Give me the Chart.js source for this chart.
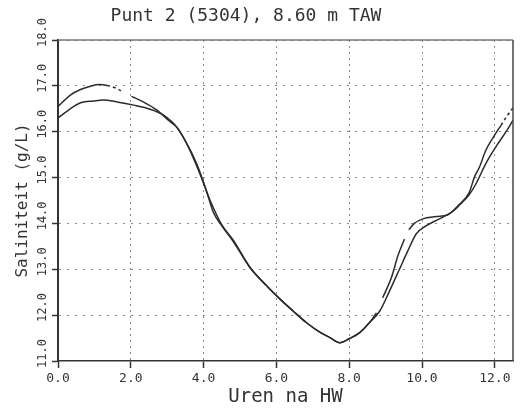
<!DOCTYPE html>
<html>
<head>
<meta charset="utf-8">
<script src="https://cdn.jsdelivr.net/npm/chart.js@4/dist/chart.umd.min.js"></script>
<style>
html,body{margin:0;padding:0;background:#fff;}
#c{display:block;}
</style>
</head>
<body>
<canvas id="c" width="520" height="411"></canvas>
<script>
// ---- data ----
const chartTitle = "Punt 2 (5304), 8.60 m TAW";
const xTitle = "Uren na HW";
const yTitle = "Saliniteit (g/L)";

const xTickValues = [0, 2, 4, 6, 8, 10, 12];
const xTickLabels = ["0.0", "2.0", "4.0", "6.0", "8.0", "10.0", "12.0"];
const yTickValues = [11, 12, 13, 14, 15, 16, 17, 18];
const yTickLabels = ["11.0", "12.0", "13.0", "14.0", "15.0", "16.0", "17.0", "18.0"];

// measured series (with gaps)
const measHours = [0.0, 0.34, 0.62, 0.89, 1.12, 1.35, 1.62, 1.80, 1.92, 2.02, 2.34, 2.72, 3.03, 3.27, 3.54, 3.81, 4.05, 4.27, 4.50, 4.82, 5.27, 5.73, 6.10, 6.46, 6.82, 7.19, 7.47, 7.74, 8.01, 8.29, 8.56, 8.75, 8.85, 8.92, 9.16, 9.34, 9.52, 9.58, 9.64, 9.79, 10.02, 10.39, 10.71, 11.03, 11.30, 11.44, 11.58, 11.75, 11.99, 12.17, 12.35, 12.5];
const measValues = [16.55, 16.80, 16.92, 16.99, 17.03, 17.01, 16.94, 16.86, null, 16.77, 16.65, 16.47, 16.25, 16.09, 15.74, 15.30, 14.78, 14.24, 13.95, 13.60, 13.04, 12.64, 12.35, 12.09, 11.84, 11.63, 11.51, 11.40, 11.49, 11.62, 11.84, 12.05, null, 12.38, 12.82, 13.30, 13.66, null, 13.86, 14.00, 14.10, 14.15, 14.19, 14.42, 14.68, 15.01, 15.23, 15.59, 15.92, 16.14, 16.36, 16.52];

// computed series (smooth)
const modelHours = [0.0, 0.34, 0.62, 0.98, 1.25, 1.62, 2.08, 2.53, 2.90, 3.27, 3.58, 3.90, 4.18, 4.50, 4.82, 5.27, 5.73, 6.10, 6.46, 6.82, 7.19, 7.47, 7.74, 8.01, 8.29, 8.56, 8.84, 9.11, 9.38, 9.61, 9.84, 10.12, 10.48, 10.84, 11.03, 11.30, 11.48, 11.75, 12.03, 12.30, 12.5];
const modelValues = [16.30, 16.50, 16.63, 16.67, 16.69, 16.65, 16.58, 16.49, 16.36, 16.09, 15.67, 15.08, 14.50, 13.97, 13.63, 13.05, 12.64, 12.35, 12.09, 11.84, 11.63, 11.51, 11.40, 11.49, 11.62, 11.84, 12.09, 12.53, 13.00, 13.40, 13.77, 13.95, 14.10, 14.26, 14.40, 14.63, 14.86, 15.30, 15.67, 15.99, 16.25];

// ---- build ----
const toXY = (xs, ys) => xs.map((x, i) => ({x: x, y: ys[i]}));
const INK = '#2b2b2b';
const GRID = '#8a8a8a';
const MONO = "'DejaVu Sans Mono', 'Liberation Mono', monospace";

const framePlugin = {
  id: 'frame',
  beforeDraw(chart) {
    const ctx = chart.ctx;
    ctx.save();
    ctx.fillStyle = '#fff';
    ctx.fillRect(0, 0, chart.width, chart.height);
    ctx.restore();
  },
  afterLayout(chart) {
    // shift title centre to match the original plot
    if (chart.titleBlock) {
      chart.titleBlock.left = 0;
      chart.titleBlock.right = chart.chartArea.right - 21;
    }
  },
  afterDraw(chart) {
    const a = chart.chartArea;
    const ctx = chart.ctx;
    ctx.save();
    ctx.lineWidth = 1.5;
    ctx.strokeStyle = '#777';
    ctx.beginPath();
    ctx.moveTo(a.left, a.top);
    ctx.lineTo(a.right, a.top);
    ctx.stroke();
    ctx.strokeStyle = '#444';
    ctx.beginPath();
    ctx.moveTo(a.right, a.top);
    ctx.lineTo(a.right, a.bottom);
    ctx.stroke();
    ctx.restore();
  }
};

const dottedRange = (ctx) => {
  const x0 = ctx.p0.parsed.x, x1 = ctx.p1.parsed.x;
  if ((x0 >= 1.3 && x1 <= 1.85) || x0 >= 12.1) return [3, 3];
  return undefined;
};

new Chart(document.getElementById('c'), {
  type: 'line',
  data: {
    datasets: [
      {
        label: 'gemeten',
        data: toXY(measHours, measValues),
        borderColor: INK,
        borderWidth: 1.5,
        pointRadius: 0,
        spanGaps: false,
        cubicInterpolationMode: 'monotone',
        segment: { borderDash: dottedRange }
      },
      {
        label: 'berekend',
        data: toXY(modelHours, modelValues),
        borderColor: INK,
        borderWidth: 1.5,
        pointRadius: 0,
        cubicInterpolationMode: 'monotone'
      }
    ]
  },
  options: {
    responsive: false,
    animation: false,
    devicePixelRatio: 1,
    layout: { padding: { left: 0, right: 7, top: 0, bottom: 0 } },
    plugins: {
      legend: { display: false },
      tooltip: { enabled: false },
      title: {
        display: true,
        text: chartTitle,
        color: '#333',
        font: { family: MONO, size: 18, weight: 'normal' },
        padding: { top: 6, bottom: 12.4 }
      }
    },
    scales: {
      x: {
        type: 'linear',
        min: 0,
        max: 12.5,
        afterBuildTicks: (s) => { s.ticks = xTickValues.map(v => ({value: v})); },
        afterFit: (s) => { s.height = 50; },
        ticks: {
          autoSkip: false,
          maxRotation: 0,
          padding: 3,
          color: '#333',
          font: { family: MONO, size: 13 },
          callback: (v) => xTickLabels[xTickValues.indexOf(v)]
        },
        grid: {
          color: (c) => (c.tick && c.tick.value === xTickValues[0]) ? 'rgba(0,0,0,0)' : GRID,
          lineWidth: 1,
          tickLength: 7,
          tickColor: '#333',
          tickWidth: 1.5,
          tickBorderDash: []
        },
        border: { display: true, color: '#333', width: 1.5, dash: [2, 4] },
        title: {
          display: true,
          text: xTitle,
          color: '#333',
          font: { family: MONO, size: 19 },
          padding: { top: 0, bottom: 2.5 }
        }
      },
      y: {
        type: 'linear',
        min: 11,
        max: 18,
        afterBuildTicks: (s) => { s.ticks = yTickValues.map(v => ({value: v})); },
        afterFit: (s) => { s.width = 58; },
        ticks: {
          autoSkip: false,
          minRotation: 90,
          maxRotation: 90,
          padding: 9,
          labelOffset: -22,
          color: '#333',
          font: { family: MONO, size: 12 },
          callback: (v) => yTickLabels[yTickValues.indexOf(v)]
        },
        grid: {
          color: (c) => (c.tick && c.tick.value === yTickValues[0]) ? 'rgba(0,0,0,0)' : GRID,
          lineWidth: 1,
          tickLength: 6,
          tickColor: '#333',
          tickWidth: 1.5,
          tickBorderDash: []
        },
        border: { display: true, color: '#333', width: 2, dash: [2, 6] },
        title: {
          display: true,
          text: yTitle,
          color: '#333',
          font: { family: MONO, size: 16 },
          padding: { top: 13, bottom: 0 }
        }
      }
    }
  },
  plugins: [framePlugin]
});
</script>
</body>
</html>
